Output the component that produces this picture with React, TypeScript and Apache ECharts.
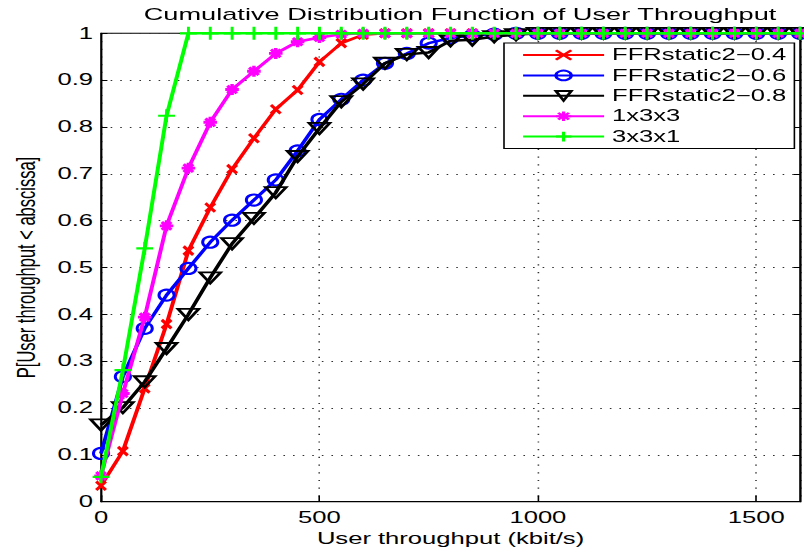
import React, { useEffect, useRef } from 'react';
import * as echarts from 'echarts';

// ---------- data ----------
const xValues = [
  0, 50, 100, 150, 200, 250, 300, 350, 400, 450, 500, 550, 600, 650, 700, 750, 800,
  850, 900, 950, 1000, 1050, 1100, 1150, 1200, 1250, 1300, 1350, 1400, 1450, 1500, 1550, 1600,
];

const ffr04 = [
  0.034, 0.108, 0.242, 0.379, 0.536, 0.628, 0.71, 0.776, 0.838, 0.879, 0.939, 0.979, 0.997,
  1, 1, 1, 1, 1, 1, 1, 1, 1, 1, 1, 1, 1, 1, 1, 1, 1, 1, 1, 1,
];
const ffr06 = [
  0.103, 0.267, 0.37, 0.441, 0.498, 0.554, 0.601, 0.644, 0.687, 0.749, 0.816, 0.859, 0.9,
  0.936, 0.957, 0.979, 0.99, 0.995, 0.998, 1, 1, 1, 1, 1, 1, 1, 1, 1, 1, 1, 1, 1, 1,
];
const ffr08 = [
  0.164, 0.201, 0.256, 0.327, 0.4, 0.478, 0.551, 0.605, 0.66, 0.737, 0.797, 0.854, 0.892,
  0.936, 0.955, 0.959, 0.984, 0.986, 0.993, 0.997, 1, 1, 1, 1, 1, 1, 1, 1, 1, 1, 1, 1, 1,
];
const r1x3x3 = [
  0.055, 0.231, 0.394, 0.589, 0.712, 0.81, 0.88, 0.919, 0.957, 0.982, 0.991, 0.998,
  1, 1, 1, 1, 1, 1, 1, 1, 1, 1, 1, 1, 1, 1, 1, 1, 1, 1, 1, 1, 1,
];
const r3x3x1 = [
  0.053, 0.281, 0.541, 0.824, 1, 1, 1, 1, 1, 1, 1, 1, 1, 1, 1, 1, 1,
  1, 1, 1, 1, 1, 1, 1, 1, 1, 1, 1, 1, 1, 1, 1, 1,
];

const seriesNames = ['FFRstatic2\u22120.4', 'FFRstatic2\u22120.6', 'FFRstatic2\u22120.8', '1x3x3', '3x3x1'];
const seriesValues = [ffr04, ffr06, ffr08, r1x3x3, r3x3x1];

const titleText = 'Cumulative Distribution Function of User Throughput';
const xAxisName = 'User throughput (kbit/s)';
const yAxisName = 'P[User throughput < abscissa]';

// ---------- styling ----------
const FONT = '"Liberation Sans", Arial, Helvetica, sans-serif';
const S = 1.6; // horizontal stretch of the reference figure
const FULL_W = 804;
const FULL_H = 554;
const W = FULL_W / S;
const hx = (v: number) => v / S;

const colors = ['#ff0000', '#0000ff', '#000000', '#ff00ff', '#00ff00'];
const symbols = [
  'path://M0,0L10,10M10,0L0,10',
  'circle',
  'path://M0,0L10,0L5,8.66Z',
  'path://M5,0L5,10M0,5L10,5M1.5,1.5L8.5,8.5M8.5,1.5L1.5,8.5',
  'path://M5,0L5,10M0,5L10,5',
];
const symbolSizes: any[] = [
  [6, 8.5],
  [9.5, 11],
  [13, 11],
  [8.5, 11],
  [10.5, 13],
];
const symbolBorders = [2.5, 2, 2, 2.5, 2];

export default function App() {
  const ref = useRef<HTMLDivElement>(null);

  useEffect(() => {
    if (!ref.current) return;
    const chart = echarts.init(ref.current, null, { renderer: 'svg', width: W, height: FULL_H });

    const textBase = { fontFamily: FONT, color: '#000' };

    const option: any = {
      animation: false,
      backgroundColor: '#fff',
      title: {
        text: titleText,
        left: hx(452),
        top: 1,
        textAlign: 'center',
        textStyle: { ...textBase, fontSize: 17, fontWeight: 'normal' },
      },
      legend: {
        orient: 'vertical',
        left: hx(504),
        top: 43,
        padding: [4, 5, 4, hx(17.5)],
        itemWidth: hx(81),
        itemHeight: 12,
        itemGap: 4.4,
        backgroundColor: '#fff',
        borderColor: '#000',
        borderWidth: 1,
        borderRadius: 0,
        textStyle: { ...textBase, fontSize: 16 },
        data: seriesNames,
      },
      grid: {
        left: hx(97),
        right: W - hx(800),
        top: 33.3,
        bottom: FULL_H - 501.7,
        show: true,
        borderColor: '#000',
        borderWidth: 1,
        backgroundColor: 'transparent',
      },
      xAxis: {
        type: 'value',
        min: 0,
        max: 1600,
        interval: 500,
        name: xAxisName,
        nameLocation: 'middle',
        nameGap: 29,
        nameTextStyle: { ...textBase, fontSize: 16 },
        axisLine: { show: true, onZero: false, lineStyle: { color: '#000', width: 1 } },
        axisTick: { show: true, inside: true, length: 6, lineStyle: { color: '#000' } },
        axisLabel: {
          ...textBase,
          fontSize: 16,
          margin: 8,
          showMaxLabel: false,
          formatter: (v: number) => String(v),
        },
        splitLine: { show: true, lineStyle: { type: [1.2, 6.5], color: '#333', width: 1 } },
      },
      yAxis: [
        {
          type: 'value',
          min: 0,
          max: 1,
          interval: 0.1,
          name: yAxisName,
          nameLocation: 'middle',
          nameGap: 36,
          nameTextStyle: { ...textBase, fontSize: 16.5 },
          axisLine: { show: true, onZero: false, lineStyle: { color: '#000', width: 1 } },
          axisTick: { show: true, inside: true, length: 4, lineStyle: { color: '#000' } },
          axisLabel: { ...textBase, fontSize: 16, margin: 5 },
          splitLine: { show: true, lineStyle: { type: [1, 5], color: '#333', width: 1 } },
        },
        {
          type: 'value',
          position: 'right',
          min: 0,
          max: 1,
          interval: 0.1,
          axisLine: { show: true, onZero: false, lineStyle: { color: '#000', width: 1 } },
          axisTick: { show: true, inside: true, length: 4, lineStyle: { color: '#000' } },
          axisLabel: { show: false },
          splitLine: { show: false },
        },
      ],
      series: seriesNames.map((name, i) => ({
        name,
        type: 'line',
        yAxisIndex: 0,
        data: xValues.map((x, j) => [x, seriesValues[i][j]]),
        symbol: symbols[i],
        symbolSize: symbolSizes[i],
        showAllSymbol: true,
        clip: false,
        z: 2 + i,
        lineStyle: { color: colors[i], width: 2.5 },
        itemStyle: { color: 'rgba(0,0,0,0)', borderColor: colors[i], borderWidth: symbolBorders[i] },
        emphasis: { disabled: true },
      })),
    };

    chart.setOption(option);
    return () => chart.dispose();
  }, []);

  return (
    <div
      style={{
        position: 'absolute',
        left: 0,
        top: 0,
        width: FULL_W,
        height: FULL_H,
        overflow: 'hidden',
        background: '#fff',
      }}
    >
      <div
        ref={ref}
        style={{
          width: W,
          height: FULL_H,
          transform: `scaleX(${S})`,
          transformOrigin: '0 0',
        }}
      />
    </div>
  );
}
